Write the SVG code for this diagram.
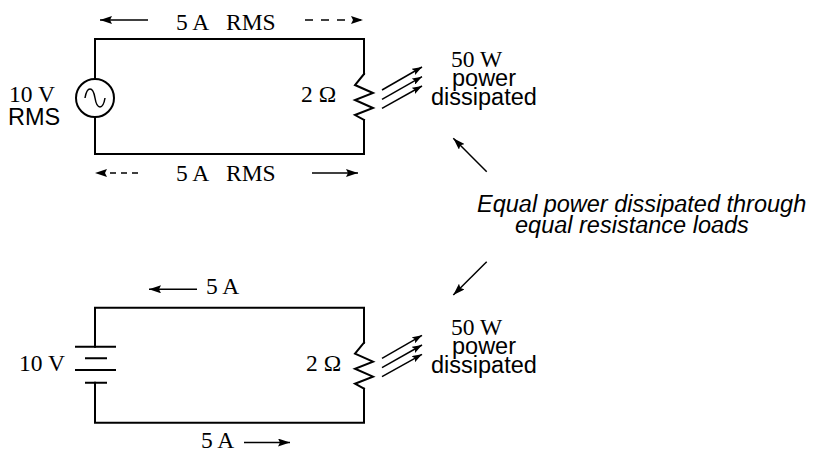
<svg xmlns="http://www.w3.org/2000/svg" width="813" height="452" viewBox="0 0 813 452">
<style>
.w{fill:none;stroke:#000;stroke-width:2;stroke-linecap:square}
.a{fill:none;stroke:#000;stroke-width:1.5}
.d{fill:none;stroke:#000;stroke-width:1.5;stroke-dasharray:8 8}
.d2{fill:none;stroke:#000;stroke-width:1.5;stroke-dasharray:6 5}
.s{font-family:"Liberation Serif","Times New Roman",serif;font-size:23.5px;fill:#000}
.n{font-family:"Liberation Sans",Arial,sans-serif;font-size:23.5px;fill:#000}
.i{font-family:"Liberation Sans",Arial,sans-serif;font-size:23.5px;font-style:italic;fill:#000}
</style>
<defs>
<marker id="ah" viewBox="0 0 12 8" refX="12" refY="4" markerWidth="12" markerHeight="8" orient="auto" markerUnits="userSpaceOnUse"><path d="M0,0 L12,4 L0,8 L2,4 z" fill="#000"/></marker>
<marker id="ap" viewBox="0 0 10 7" refX="10" refY="3.5" markerWidth="10" markerHeight="7" orient="auto" markerUnits="userSpaceOnUse"><path d="M0,0 L10,3.5 L0,7 L2,3.5 z" fill="#000"/></marker>
</defs>
<rect width="813" height="452" fill="#fff"/>
<g id="connectors">
<path class="w" d="M95,79 V39 H364 V74"/>
<path class="w" d="M95,117 V154 H364 V120"/>
<path class="w" d="M95,346.7 V307.7 H364 V342.7"/>
<path class="w" d="M95,382.7 V422.7 H364 V388.7"/>
</g>
<g id="ac-source">
<circle cx="95" cy="98" r="19" fill="none" stroke="#000" stroke-width="2"/>
<path d="M85,98 C87,86 93,86 95,98 C97,110 103,110 105,98" fill="none" stroke="#000" stroke-width="1.5"/>
<text class="s" x="9" y="102">10 V</text>
<text class="n" x="8" y="125">RMS</text>
</g>
<g id="resistor-1">
<path class="w" d="M364,74 L355,85 L373,93 L355,100 L373,108 L355,115 L364,120" stroke-linejoin="miter"/>
<text class="s" x="301" y="102">2 Ω</text>
</g>
<g id="power-1">
<path class="a" marker-end="url(#ap)" d="M382,90 L422,67"/>
<path class="a" marker-end="url(#ap)" d="M382,99.3 L422,76.7"/>
<path class="a" marker-end="url(#ap)" d="M382,108.3 L422,86"/>
<text class="s" x="451" y="67">50 W</text>
<text class="n" x="452" y="86">power</text>
<text class="n" x="431" y="105">dissipated</text>
</g>
<g id="current-1">
<path class="a" marker-end="url(#ah)" d="M148,20 L100,20"/>
<path class="d" marker-end="url(#ah)" d="M305,20 L363,20"/>
<text class="s" x="176" y="30">5 A</text>
<text class="s" x="226" y="30">RMS</text>
<path class="d2" marker-end="url(#ah)" d="M138,173 L95,173"/>
<path class="a" marker-end="url(#ah)" d="M312,173 L358,173"/>
<text class="s" x="176" y="181">5 A</text>
<text class="s" x="226" y="181">RMS</text>
</g>
<g id="battery">
<path class="w" d="M76,346.7 H115 M86,358.3 H106 M76,370 H115 M86,382.7 H106"/>
<text class="s" x="19" y="371">10 V</text>
</g>
<g id="resistor-2" transform="translate(0,268.7)">
<path class="w" d="M364,74 L355,85 L373,93 L355,100 L373,108 L355,115 L364,120" stroke-linejoin="miter"/>
</g>
<g id="r2-label"><text class="s" x="306" y="370.5">2 Ω</text></g>
<g id="power-2" transform="translate(0,268.3)">
<path class="a" marker-end="url(#ap)" d="M382,90 L422,67"/>
<path class="a" marker-end="url(#ap)" d="M382,99.3 L422,76.7"/>
<path class="a" marker-end="url(#ap)" d="M382,108.3 L422,86"/>
<text class="s" x="451" y="67">50 W</text>
<text class="n" x="452" y="86">power</text>
<text class="n" x="431" y="105">dissipated</text>
</g>
<g id="current-2">
<path class="a" marker-end="url(#ah)" d="M197,289.3 L149,289.3"/>
<text class="s" x="206" y="294">5 A</text>
<path class="a" marker-end="url(#ah)" d="M244,442.5 L290,442.5"/>
<text class="s" x="201" y="448">5 A</text>
</g>
<g id="note">
<text class="i" x="477" y="211.7">Equal power dissipated through</text>
<text class="i" x="515" y="233.3">equal resistance loads</text>
<path class="a" marker-end="url(#ah)" d="M486.7,171.7 L453.3,138.3"/>
<path class="a" marker-end="url(#ah)" d="M486.7,261.7 L453.3,295"/>
</g>
</svg>
